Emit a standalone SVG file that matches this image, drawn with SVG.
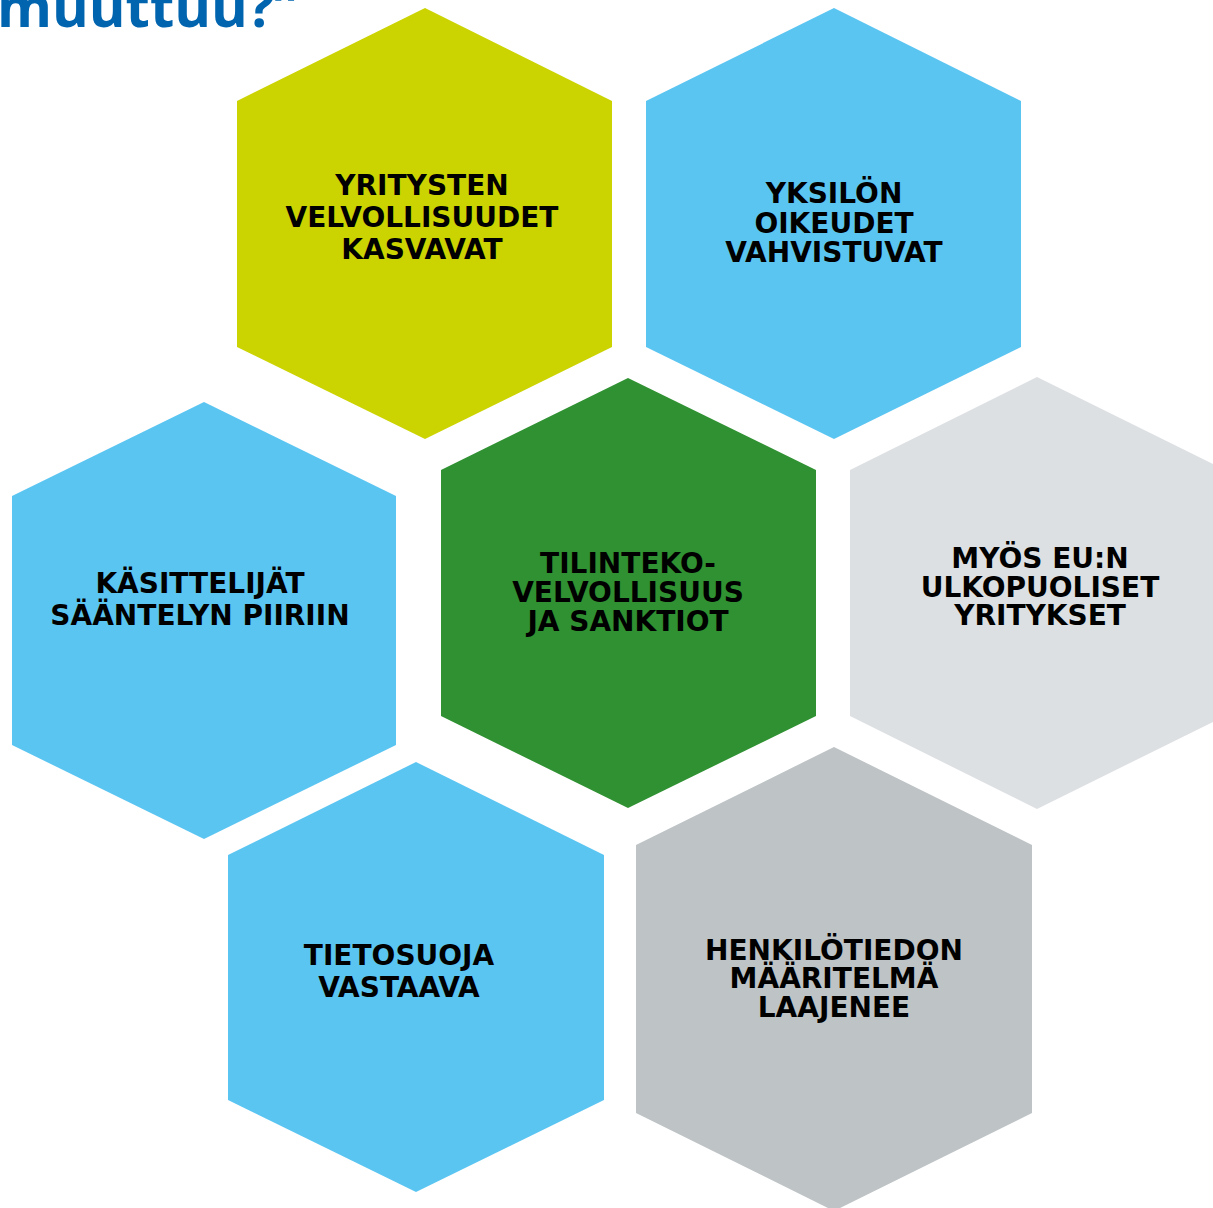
<svg xmlns="http://www.w3.org/2000/svg" width="1213" height="1208" viewBox="0 0 1213 1208">
<style>
.lbl{font-family:"DejaVu Sans","Verdana",sans-serif;font-weight:bold;font-size:28px;fill:#000;text-anchor:middle}
.title{font-family:"Open Sans","Liberation Sans",sans-serif;font-weight:bold;font-size:56px;fill:#0064AF}
</style>
<rect width="1213" height="1208" fill="#fff"/>
<text class="title" x="-3" y="27">muuttuu?”</text>
<g id="connectors"/>
<g id="n1">
<polygon points="425,8 612,101 612,347 425,439 237,347 237,101" fill="#CBD300"/>
<text class="lbl" x="422" y="195">YRITYSTEN</text>
<text class="lbl" x="422" y="227">VELVOLLISUUDET</text>
<text class="lbl" x="422" y="259">KASVAVAT</text>
</g>
<g id="n2">
<polygon points="834,8 1021,101 1021,347 834,439 646,347 646,101" fill="#5BC5F2"/>
<text class="lbl" x="834" y="203">YKSILÖN</text>
<text class="lbl" x="834" y="233">OIKEUDET</text>
<text class="lbl" x="834" y="262">VAHVISTUVAT</text>
</g>
<g id="n3">
<polygon points="628,378 816,470 816,716 628,808 441,716 441,470" fill="#2F9131"/>
<text class="lbl" x="628" y="573">TILINTEKO-</text>
<text class="lbl" x="628" y="602">VELVOLLISUUS</text>
<text class="lbl" x="628" y="631">JA SANKTIOT</text>
</g>
<g id="n4">
<polygon points="1037,377 1225,470 1225,716 1037,809 850,716 850,470" fill="#DDE0E3"/>
<text class="lbl" x="1040" y="568">MYÖS EU:N</text>
<text class="lbl" x="1040" y="597">ULKOPUOLISET</text>
<text class="lbl" x="1040" y="625">YRITYKSET</text>
</g>
<g id="n5">
<polygon points="204,402 396,496 396,745 204,839 12,745 12,496" fill="#5BC5F2"/>
<text class="lbl" x="200" y="593">KÄSITTELIJÄT</text>
<text class="lbl" x="200" y="625">SÄÄNTELYN PIIRIIN</text>
</g>
<g id="n6">
<polygon points="416,762 604,855 604,1100 416,1192 228,1100 228,855" fill="#5BC5F2"/>
<text class="lbl" x="399" y="965">TIETOSUOJA</text>
<text class="lbl" x="399" y="997">VASTAAVA</text>
</g>
<g id="n7">
<polygon points="834,747 1032,845 1032,1113 834,1211 636,1113 636,845" fill="#BEC3C6"/>
<text class="lbl" x="834" y="960">HENKILÖTIEDON</text>
<text class="lbl" x="834" y="988">MÄÄRITELMÄ</text>
<text class="lbl" x="834" y="1017">LAAJENEE</text>
</g>
</svg>
